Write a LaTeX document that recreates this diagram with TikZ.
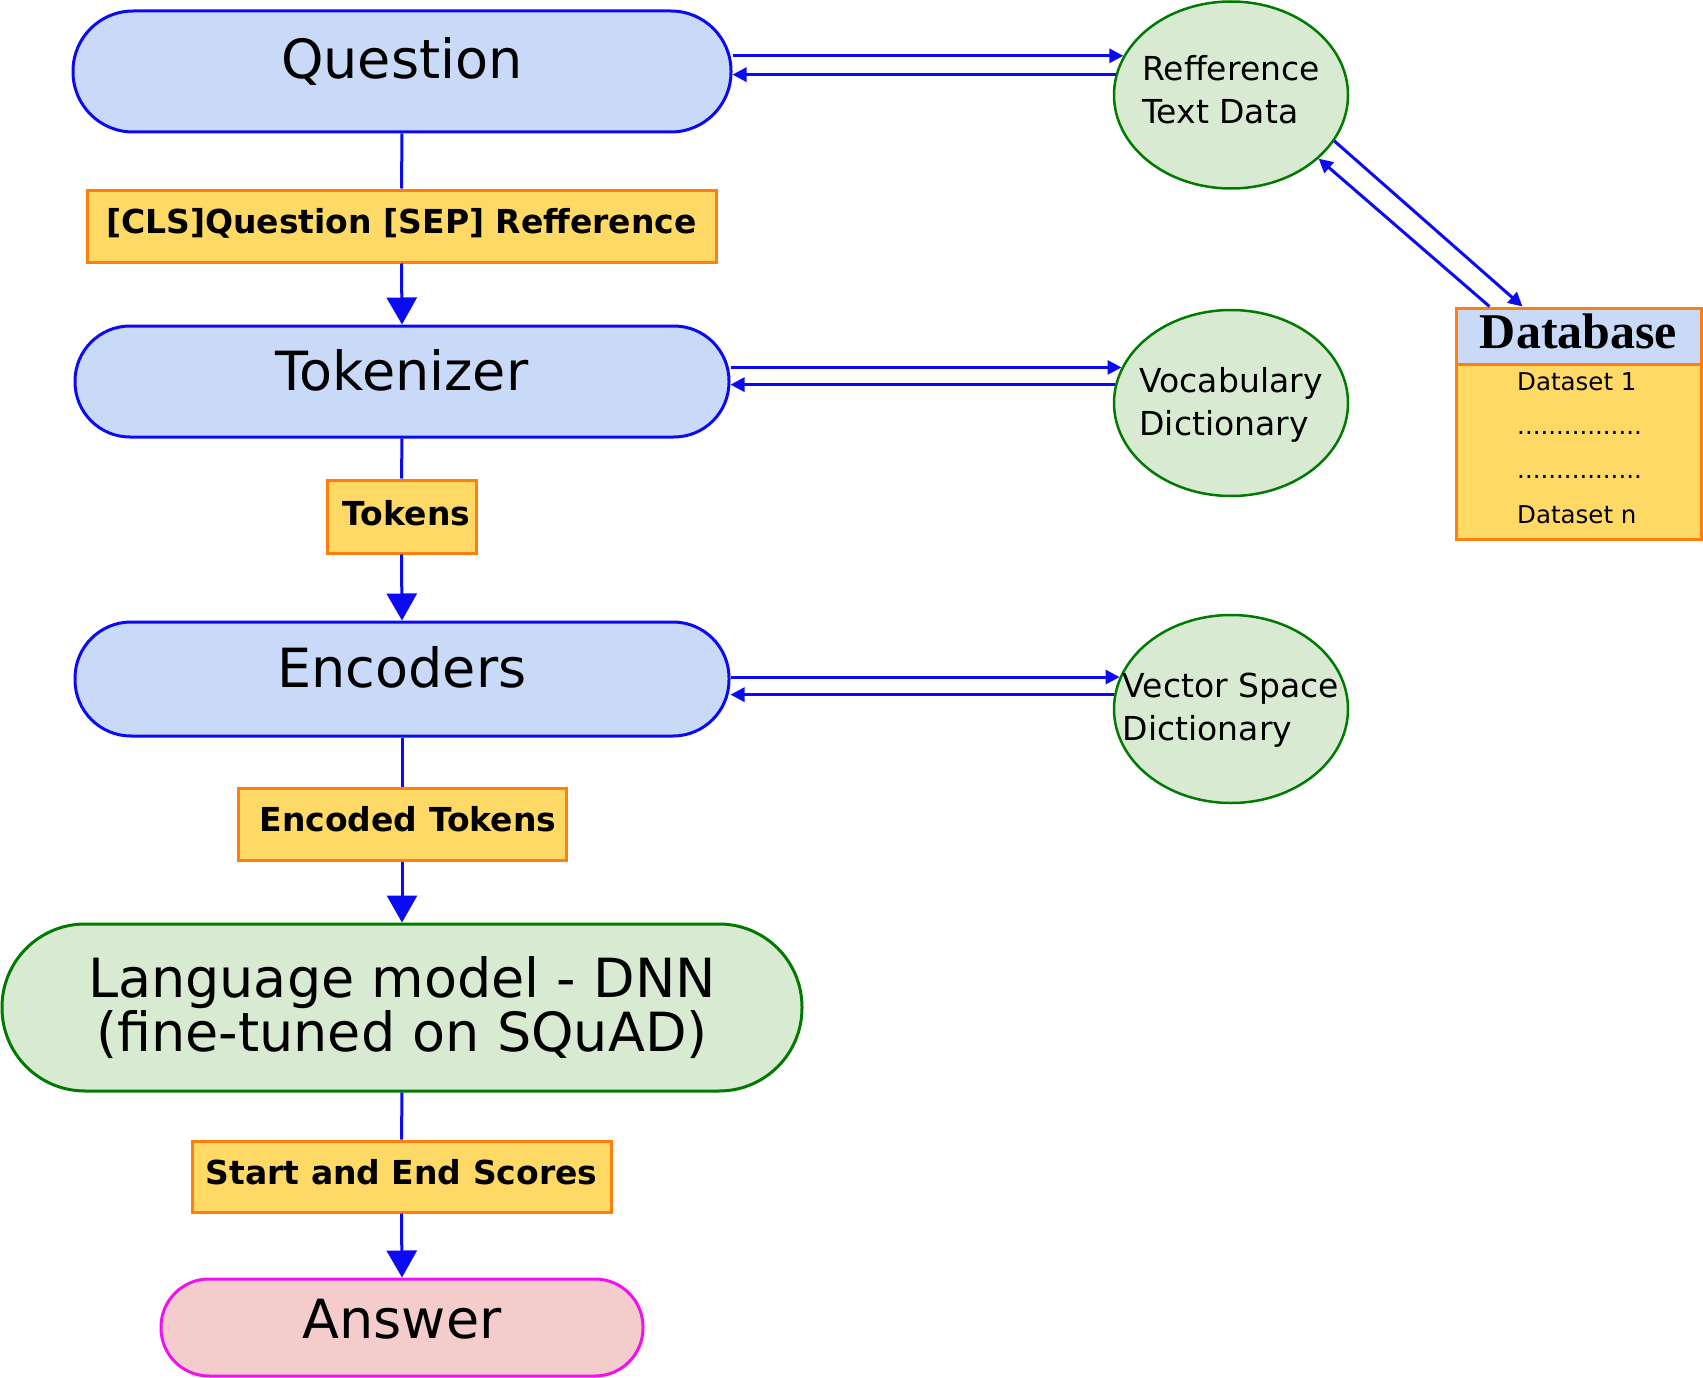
\documentclass[tikz,border=0pt]{standalone}
\usepackage{fontspec}
\setmainfont{DejaVu Sans}
\newfontfamily\timesfont{Liberation Serif}
\usetikzlibrary{arrows.meta,shapes.geometric,calc}
\definecolor{bfill}{HTML}{C9DAF8}
\definecolor{gfill}{HTML}{D9EAD3}
\definecolor{yfill}{HTML}{FFD966}
\definecolor{pfill}{HTML}{F4CCCC}
\definecolor{ored}{HTML}{FF7F0E}
\definecolor{gline}{HTML}{007A00}
\definecolor{bline}{HTML}{0A0AF5}
\definecolor{mline}{HTML}{F010F0}
\begin{document}
\begin{tikzpicture}[x=1pt,y=-1pt,
  shapebase/.style={draw=bline, fill=bfill, line width=3pt, inner sep=0pt,
    font=\fontsize{54}{62}\selectfont},
  proc/.style={shapebase, text height=39pt, text depth=22pt},
  lbl/.style={draw=ored, fill=yfill, line width=3pt, inner sep=0pt,
    font=\bfseries\fontsize{33}{40}\selectfont, text height=24pt, text depth=10pt},
  ell/.style={ellipse, draw=gline, fill=gfill, line width=2.5pt, inner sep=0pt,
    minimum width=234pt},
  etxt/.style={inner sep=0pt, font=\fontsize{33}{43}\selectfont, align=left},
  vline/.style={draw=bline, line width=3pt},
  varr/.style={draw=bline, line width=3pt, -{Triangle[width=30pt,length=27pt]}},
  harr/.style={draw=bline, line width=3pt, -{Triangle[width=14pt,length=14pt]}},
  dbtxt/.style={anchor=base west, inner sep=0pt, font=\fontsize{24.5}{28}\selectfont}
]
\useasboundingbox (0,0) rectangle (1703,1378);

% main flow
\node[proc, rounded corners=60pt, minimum width=658pt, minimum height=121pt, text depth=24pt] (q) at (402,71.5) {Question};
\node[lbl, minimum width=629pt, minimum height=72pt] (cls) at (401.5,226) {[CLS]Question [SEP] Refference};
\node[proc, rounded corners=55pt, minimum width=654pt, minimum height=111pt] (tk) at (402,381.5) {Tokenizer};
\node[lbl, minimum width=149pt, minimum height=73pt, text depth=6pt] (tks) at (401.5,516.5) {\hspace*{10pt}Tokens};
\node[proc, rounded corners=56pt, minimum width=654pt, minimum height=114pt] (enc) at (402,679) {Encoders};
\node[lbl, minimum width=328pt, minimum height=72pt] (enct) at (402,824) {\hspace*{12pt}Encoded Tokens};
\node[shapebase, draw=gline, fill=gfill, rounded corners=83pt, minimum width=800pt, minimum height=167pt,
  align=center] (lm) at (402,1007.5)
  {Language model - DNN\\[-8pt](fine-tuned on SQuAD)};
\node[lbl, minimum width=419pt, minimum height=71pt, text depth=8pt] (ses) at (401.5,1176.5) {Start and End Scores};
\node[proc, draw=mline, fill=pfill, rounded corners=48pt, minimum width=482pt, minimum height=97pt, text depth=18pt] (ans) at (402,1327.5) {Answer};

\draw[vline] (q.south) -- (cls.north);
\draw[varr] (cls.south) -- (tk.north);
\draw[vline] (tk.south) -- (tks.north);
\draw[varr] (tks.south) -- (enc.north);
\draw[vline] (enc.south) -- (enct.north);
\draw[varr] (enct.south) -- (lm.north);
\draw[vline] (lm.south) -- (ses.north);
\draw[varr] (ses.south) -- (ans.north);

% ellipses
\node[ell, minimum height=187pt] (ref) at (1231,95) {};
\node[etxt] (reft) at (1231,90) {Refference\\Text Data};
\node[ell, minimum height=186pt] (voc) at (1231,403) {};
\node[etxt] (voct) at (1231,405) {Vocabulary\\Dictionary};
\node[ell, minimum height=188pt] (vec) at (1231,709) {};
\node[etxt] (vect) at (1231,710.5) {Vector Space\\Dictionary};

\draw[harr] (q.east |- ref.160) -- (ref.160);
\draw[harr] (ref.170) -- (q.east |- ref.170);
\draw[harr] (tk.east |- voc.162) -- (voc.162);
\draw[harr] (voc.171) -- (tk.east |- voc.171);
\draw[harr] (enc.east |- vec.164) -- (vec.164);
\draw[harr] (vec.173) -- (enc.east |- vec.173);

% database
\node[draw=ored, fill=bfill, line width=3pt, minimum width=245pt, minimum height=56pt, inner sep=0pt,
  text depth=9pt, font=\timesfont\bfseries\fontsize{50}{52}\selectfont] (dbh) at (1578.5,336) {Database};
\node[draw=ored, fill=yfill, line width=3pt, minimum width=245pt, minimum height=175pt, inner sep=0pt] (dbb) at (1578.5,451.5) {};
\node[dbtxt] (d1) at (1517,390) {Dataset 1};
\node[dbtxt] (d2) at (1517,434) {................};
\node[dbtxt] (d3) at (1517,478) {................};
\node[dbtxt] (d4) at (1517,523) {Dataset n};

\draw[harr] (ref.-24) -- ([xshift=68pt]dbh.north west);
\draw[harr] ([xshift=35pt]dbh.north west) -- (ref.-36);
\end{tikzpicture}
\end{document}
